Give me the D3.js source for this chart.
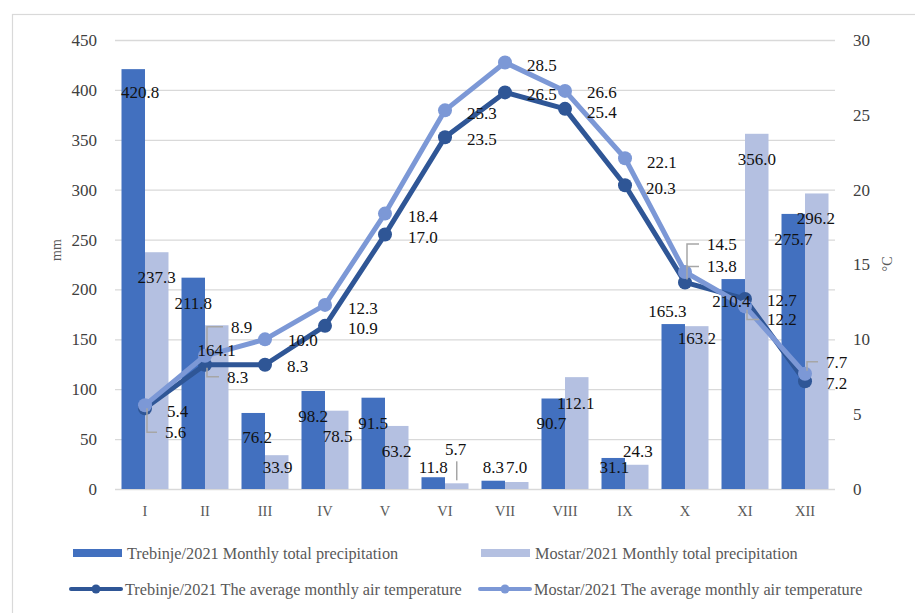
<!DOCTYPE html>
<html>
<head>
<meta charset="utf-8">
<script src="https://cdn.jsdelivr.net/npm/d3@7"></script>
<style>
  html, body { margin: 0; padding: 0; background: #ffffff; }
  svg { display: block; }
  svg text { font-family: "Liberation Serif", "DejaVu Serif", serif; }
</style>
</head>
<body>
<svg id="chart" width="915" height="613"></svg>
<script>
// Monthly precipitation (mm) and mean air temperature (°C), 2021
const months = ["I", "II", "III", "IV", "V", "VI", "VII", "VIII", "IX", "X", "XI", "XII"];
const trebinjePrecip = [420.8, 211.8, 76.2, 98.2, 91.5, 11.8, 8.3, 90.7, 31.1, 165.3, 210.4, 275.7];
const mostarPrecip   = [237.3, 164.1, 33.9, 78.5, 63.2, 5.7, 7.0, 112.1, 24.3, 163.2, 356.0, 296.2];
const trebinjeTemp   = [5.4, 8.3, 8.3, 10.9, 17.0, 23.5, 26.5, 25.4, 20.3, 13.8, 12.7, 7.2];
const mostarTemp     = [5.6, 8.9, 10.0, 12.3, 18.4, 25.3, 28.5, 26.6, 22.1, 14.5, 12.2, 7.7];
const precipTicks = [0, 50, 100, 150, 200, 250, 300, 350, 400, 450];
const tempTicks = [0, 5, 10, 15, 20, 25, 30];

const seriesNames = [
  "Trebinje/2021 Monthly total precipitation",
  "Mostar/2021 Monthly total precipitation",
  "Trebinje/2021 The average monthly air temperature",
  "Mostar/2021 The average monthly air temperature"
];

// Hand-placed data-label nudges [dx, dy] so labels do not collide
const trebinjeBarShift = [[7,23],[0,25],[4,24],[0,25],[0,25],[0,-10],[0,-14],[-2,25],[1,9],[-6,-13],[-2,22],[0,25]];
const mostarBarShift   = [[0,25],[0,25],[1,12],[1,25],[0,25],[-1,-34],[0,-15],[-1,26],[1,-14],[0,12],[0,25],[-1,25]];
const trebinjeTempShift = [[22,3],[22,12],[22,1],[23,2],[23,2],[22,2],[22,2],[22,3],[21,3],[22,-16],[22,1],[21,2]];
const mostarTempShift   = [[20,27],[26,-29],[23,1],[23,3],[23,2],[22,3],[22,3],[22,1],[22,4],[22,-28],[22,13],[21,-12]];
// Months whose temperature label gets a leader line
const trebinjeLeaders = [1, 9];
const mostarLeaders = [0, 1, 9, 10, 11];

const C = {
  trebinjeBar: "#4270BF",
  mostarBar: "#B4C0E1",
  trebinjeLine: "#2F5696",
  mostarLine: "#7C98D6",
  grid: "#D9D9D9",
  axisText: "#404040",
  catText: "#595959",
  leader: "#A6A6A6"
};
const SERIF = '"Liberation Serif", "DejaVu Serif", serif';

const svg = d3.select("#chart");
const plotLeft = 115, plotRight = 835, plotTop = 40, plotBottom = 489;

// outer chart frame
svg.append("rect")
  .attr("x", 12.5).attr("y", 14.5).attr("width", 940).attr("height", 640)
  .attr("fill", "none").attr("stroke", "#D9D9D9").attr("stroke-width", 1.2);

const x0 = d3.scaleBand().domain(months).range([plotLeft, plotRight]).paddingInner(0.2167).paddingOuter(0.1083);
const x1 = d3.scaleBand().domain(["T", "M"]).range([0, x0.bandwidth()]);
const yL = d3.scaleLinear().domain([0, 450]).range([plotBottom, plotTop]);
const yR = d3.scaleLinear().domain([0, 30]).range([plotBottom, plotTop]);
const cx = m => x0(m) + x0.bandwidth() / 2;

// left axis with gridlines
const gL = svg.append("g").attr("transform", `translate(${plotLeft},0)`)
  .call(d3.axisLeft(yL).tickValues(precipTicks).tickSize(-(plotRight - plotLeft)).tickPadding(18));
gL.attr("font-family", null);
gL.select(".domain").remove();
gL.selectAll(".tick line").attr("stroke", C.grid).attr("stroke-width", 1.3);
gL.selectAll(".tick text").attr("fill", C.axisText).style("font-size", "17px").style("font-family", SERIF);

// right axis
const gR = svg.append("g").attr("transform", `translate(${plotRight},0)`)
  .call(d3.axisRight(yR).tickValues(tempTicks).tickSize(0).tickPadding(18));
gR.attr("font-family", null);
gR.select(".domain").remove();
gR.selectAll(".tick text").attr("fill", C.axisText).style("font-size", "17px").style("font-family", SERIF);

// category axis
const gB = svg.append("g").attr("transform", `translate(0,${plotBottom})`)
  .call(d3.axisBottom(x0).tickSize(0).tickPadding(17));
gB.attr("font-family", null);
gB.select(".domain").remove();
gB.selectAll(".tick text").attr("fill", C.catText).style("font-size", "14.5px").style("font-family", SERIF);

// axis titles
svg.append("text").attr("transform", "translate(56,250) rotate(-90)")
  .attr("text-anchor", "middle").attr("dy", "0.35em")
  .attr("fill", C.catText).style("font-size", "14px").style("font-family", SERIF).text("mm");
svg.append("text").attr("transform", "translate(887,264) rotate(-90)")
  .attr("text-anchor", "middle").attr("dy", "0.35em")
  .attr("fill", C.catText).style("font-size", "14px").style("font-family", SERIF).text("°C");

// bars
const barData = months.map((m, i) => [
  { m, i, key: "T", v: trebinjePrecip[i], color: C.trebinjeBar, shift: trebinjeBarShift[i] },
  { m, i, key: "M", v: mostarPrecip[i], color: C.mostarBar, shift: mostarBarShift[i] }
]).flat();

svg.append("g").selectAll("rect").data(barData).join("rect")
  .attr("x", d => x0(d.m) + x1(d.key))
  .attr("width", x1.bandwidth())
  .attr("y", d => yL(d.v))
  .attr("height", d => yL(0) - yL(d.v))
  .attr("fill", d => d.color);

// temperature lines
const lineGen = d3.line().x((d, i) => cx(months[i])).y(d => yR(d));
const tempSeries = [
  { vals: trebinjeTemp, color: C.trebinjeLine, shift: trebinjeTempShift, leaders: trebinjeLeaders },
  { vals: mostarTemp, color: C.mostarLine, shift: mostarTempShift, leaders: mostarLeaders }
];
tempSeries.forEach(s => {
  svg.append("path").datum(s.vals)
    .attr("d", lineGen).attr("fill", "none")
    .attr("stroke", s.color).attr("stroke-width", 5)
    .attr("stroke-linejoin", "round").attr("stroke-linecap", "round");
  svg.append("g").selectAll("circle").data(s.vals).join("circle")
    .attr("cx", (d, i) => cx(months[i])).attr("cy", d => yR(d))
    .attr("r", 7).attr("fill", s.color);
});

// leader lines for displaced labels
const leaderG = svg.append("g").attr("fill", "none").attr("stroke", C.leader).attr("stroke-width", 1.5);
tempSeries.forEach(s => {
  s.leaders.forEach(i => {
    const px = cx(months[i]), py = yR(s.vals[i]);
    const ly = py + s.shift[i][1];
    const lx = px + s.shift[i][0];
    const vx = px + 2;
    const startY = py + (ly > py ? 3 : -3);
    leaderG.append("path").attr("d", `M${vx},${startY}V${ly}H${lx - 8}`);
  });
});
// leader for the small June bar in Mostar
{
  const i = 5;
  const bx = x0(months[i]) + x1("M") + x1.bandwidth() / 2;
  leaderG.append("path")
    .attr("d", `M${bx},${yL(mostarPrecip[i]) - 3}V${yL(mostarPrecip[i]) + mostarBarShift[i][1] + 12}`);
}

// bar value labels
const fmt = d3.format(".1f");
svg.append("g").selectAll("text").data(barData).join("text")
  .attr("x", d => x0(d.m) + x1(d.key) + x1.bandwidth() / 2 + d.shift[0])
  .attr("y", d => yL(d.v) + d.shift[1])
  .attr("dy", "0.35em").attr("text-anchor", "middle")
  .attr("fill", "#111").style("font-size", "17px").style("font-family", SERIF)
  .text(d => fmt(d.v));

// temperature value labels
tempSeries.forEach(s => {
  svg.append("g").selectAll("text").data(s.vals).join("text")
    .attr("x", (d, i) => cx(months[i]) + s.shift[i][0])
    .attr("y", (d, i) => yR(d) + s.shift[i][1])
    .attr("dy", "0.35em").attr("text-anchor", "start")
    .attr("fill", "#111").style("font-size", "17px").style("font-family", SERIF)
    .text(d => fmt(d));
});

// legend
const legendRows = [
  { name: seriesNames[0], type: "bar", color: C.trebinjeBar, x: 73, y: 553 },
  { name: seriesNames[1], type: "bar", color: C.mostarBar, x: 481, y: 553 },
  { name: seriesNames[2], type: "line", color: C.trebinjeLine, x: 71, y: 589 },
  { name: seriesNames[3], type: "line", color: C.mostarLine, x: 480, y: 589 }
];
const lg = svg.append("g");
legendRows.forEach(r => {
  const g = lg.append("g").attr("transform", `translate(${r.x},${r.y})`);
  if (r.type === "bar") {
    g.append("rect").attr("x", 0).attr("y", -4).attr("width", 49).attr("height", 8).attr("fill", r.color);
  } else {
    g.append("line").attr("x1", 0).attr("x2", 50).attr("stroke", r.color)
      .attr("stroke-width", 4).attr("stroke-linecap", "round");
    g.append("circle").attr("cx", 25).attr("r", 4.5).attr("fill", r.color);
  }
  g.append("text").attr("x", 54).attr("dy", "0.35em").attr("fill", C.catText)
    .style("font-size", "16.3px").style("font-family", SERIF).text(r.name);
});
</script>
</body>
</html>
